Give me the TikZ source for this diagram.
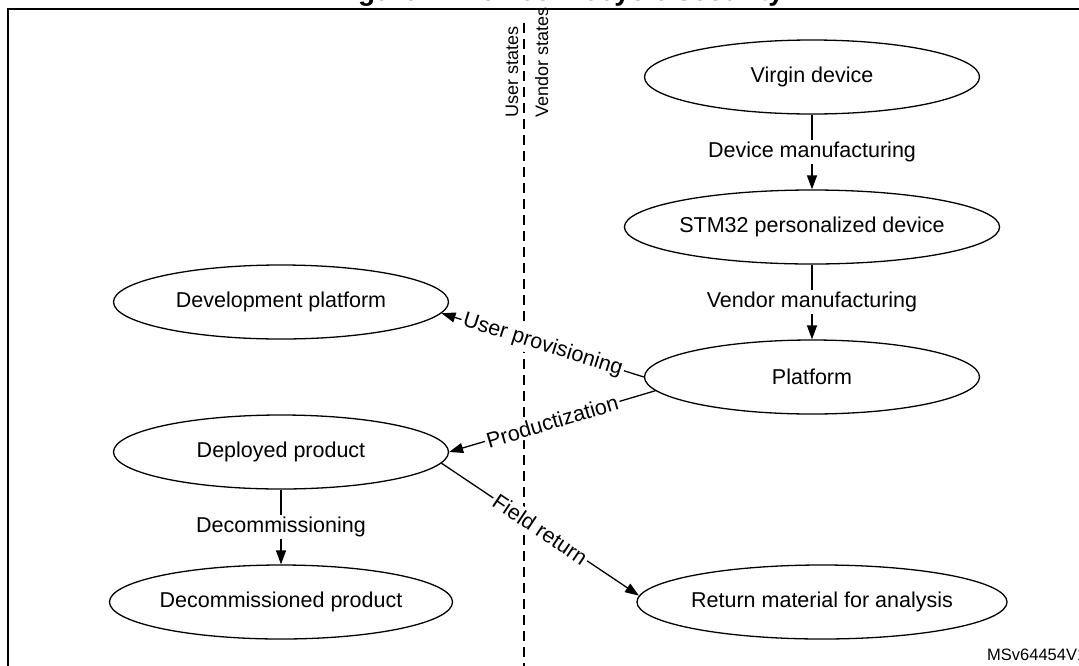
\documentclass[tikz,border=0pt]{standalone}
\usepackage{fontspec}
\setmainfont{Liberation Sans}
\usepackage{tikz}
\usetikzlibrary{shapes.geometric, arrows.meta, positioning}
\tikzstyle{state} = [ellipse,
minimum width=335pt,
minimum height=74pt,
inner sep=0pt,
draw=black, line width=1.3pt,
font=\fontsize{21.5}{26}\selectfont]
\tikzstyle{arrow} = [line width=1.3pt,-{Triangle[length=14pt,width=10pt]}]
\tikzstyle{lbl} = [fill=white, inner sep=2pt, font=\fontsize{21.5}{26}\selectfont]
\tikzstyle{side} = [rotate=90, anchor=base west, inner sep=0pt, font=\fontsize{18}{22}\selectfont]

\begin{document}
\begin{tikzpicture}[x=1pt, y=-1pt, node distance=150pt]
                \useasboundingbox (0,0) rectangle (1079,665);
                \clip (0,0) rectangle (1079,665);
                % frame and cut title
                \draw[line width=2pt] (7.5,9) rectangle (1100,700);
                \node (title) [anchor=base west, inner sep=0pt, font=\fontsize{28}{32}\selectfont\bfseries] at (333,0) {Figure 4. Device lifecycle security};

                % vendor states
                \node (virgin) [state] at (812,77) {Virgin device};
                \node (stm) [state, below of=virgin] {STM32 personalized device};
                \node (platform) [state, below of=stm] {Platform};
                \node (rma) [state] at (822,602) {Return material for analysis};

                % user states
                \node (devplat) [state] at (281,302) {Development platform};
                \node (deployed) [state, below of=devplat] {Deployed product};
                \node (decom) [state, below of=deployed] {Decommissioned product};

                % border between user and vendor
                \coordinate (divtop) at (524,23);
                \coordinate (divbot) at (524,670);
                \draw[line width=1.2pt, dash pattern=on 10pt off 6pt] (divtop) -- (divbot);
                \node (userside) [side] at (518,118) {User states};
                \node (vendorside) [side] at (548,118) {Vendor states};

                \draw [arrow] (virgin) -- node[lbl] {Device manufacturing} (stm);
                \draw [arrow] (stm) -- node[lbl] {Vendor manufacturing} (platform);
                \draw [arrow] (platform.west) -- node[lbl, sloped] {User provisioning} (devplat.-4);
                \draw [arrow] (platform.185) -- node[lbl, sloped] {Productization} (deployed.east);
                \draw [arrow] (deployed.-4) -- node[lbl, sloped] {Field return} (rma.178);
                \draw [arrow] (deployed) -- node[lbl] {Decommissioning} (decom);

                \node (docid) [anchor=base west, inner sep=0pt, font=\fontsize{16.5}{20}\selectfont] at (987,660) {MSv64454V1};
            \end{tikzpicture}
\end{document}
